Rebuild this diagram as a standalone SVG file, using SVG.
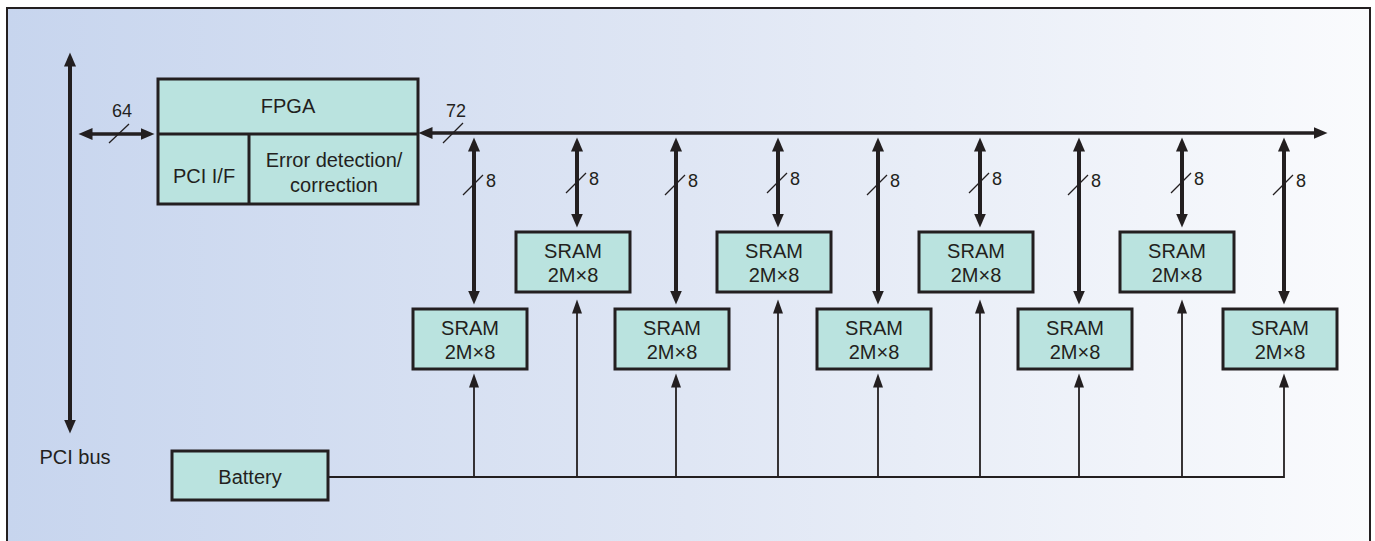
<svg xmlns="http://www.w3.org/2000/svg" width="1375" height="541" viewBox="0 0 1375 541">
<defs>
<linearGradient id="bg" x1="0" y1="0" x2="1" y2="0">
<stop offset="0" stop-color="#c7d5ee"/>
<stop offset="0.5" stop-color="#dfe6f4"/>
<stop offset="1" stop-color="#fafbfd"/>
</linearGradient>
<marker id="ah" markerUnits="userSpaceOnUse" markerWidth="16" markerHeight="14" refX="0.5" refY="6" orient="auto-start-reverse">
<path d="M0,0 L14,6 L0,12 Z" fill="#231f20"/>
</marker>
<marker id="ahs" markerUnits="userSpaceOnUse" markerWidth="16" markerHeight="12" refX="0.5" refY="5" orient="auto">
<path d="M0,0 L14,5 L0,10 Z" fill="#231f20"/>
</marker>
</defs>
<style>
.box{fill:#bae3df;stroke:#231f20;stroke-width:3}
.t{font-family:"Liberation Sans",Arial,sans-serif;font-size:20px;fill:#231f20;text-anchor:middle}
.s{font-family:"Liberation Sans",Arial,sans-serif;font-size:18px;fill:#231f20;text-anchor:middle}
.thick{stroke:#231f20;stroke-width:4;fill:none}
.bus{stroke:#231f20;stroke-width:3.5;fill:none}
.thin{stroke:#231f20;stroke-width:1.8;fill:none}
.sl{stroke:#231f20;stroke-width:1.3}
</style>
<rect x="0" y="0" width="1375" height="541" fill="#ffffff"/>
<rect x="7" y="8" width="1363" height="545" fill="url(#bg)" stroke="#231f20" stroke-width="2"/>

<g id="connectors">
<line class="thick" x1="70" y1="420" x2="70" y2="66" marker-start="url(#ah)" marker-end="url(#ah)"/>
<line class="bus" x1="92" y1="134" x2="141" y2="134" marker-start="url(#ah)" marker-end="url(#ah)"/>
<line class="sl" x1="109" y1="143" x2="129" y2="124"/>
<line class="bus" x1="432" y1="133" x2="1314" y2="133" marker-start="url(#ah)" marker-end="url(#ah)"/>
<line class="sl" x1="443" y1="143" x2="463" y2="123"/>

<line class="thick" x1="474" y1="151" x2="474" y2="291" marker-start="url(#ah)" marker-end="url(#ah)"/>
<line class="thick" x1="577" y1="151" x2="577" y2="214" marker-start="url(#ah)" marker-end="url(#ah)"/>
<line class="thick" x1="676" y1="151" x2="676" y2="291" marker-start="url(#ah)" marker-end="url(#ah)"/>
<line class="thick" x1="778" y1="151" x2="778" y2="214" marker-start="url(#ah)" marker-end="url(#ah)"/>
<line class="thick" x1="878" y1="151" x2="878" y2="291" marker-start="url(#ah)" marker-end="url(#ah)"/>
<line class="thick" x1="980" y1="151" x2="980" y2="214" marker-start="url(#ah)" marker-end="url(#ah)"/>
<line class="thick" x1="1079" y1="151" x2="1079" y2="291" marker-start="url(#ah)" marker-end="url(#ah)"/>
<line class="thick" x1="1182" y1="151" x2="1182" y2="214" marker-start="url(#ah)" marker-end="url(#ah)"/>
<line class="thick" x1="1284" y1="151" x2="1284" y2="291" marker-start="url(#ah)" marker-end="url(#ah)"/>

<g>
<line class="sl" x1="463" y1="195" x2="483" y2="175"/>
<line class="sl" x1="566" y1="193" x2="586" y2="173"/>
<line class="sl" x1="665" y1="195" x2="685" y2="175"/>
<line class="sl" x1="767" y1="193" x2="787" y2="173"/>
<line class="sl" x1="867" y1="195" x2="887" y2="175"/>
<line class="sl" x1="969" y1="193" x2="989" y2="173"/>
<line class="sl" x1="1068" y1="195" x2="1088" y2="175"/>
<line class="sl" x1="1171" y1="193" x2="1191" y2="173"/>
<line class="sl" x1="1273" y1="195" x2="1293" y2="175"/>
</g>

<polyline class="thin" points="328,477 1284,477"/>
<line class="thin" x1="474" y1="477" x2="474" y2="387" marker-end="url(#ahs)"/>
<line class="thin" x1="577" y1="477" x2="577" y2="313" marker-end="url(#ahs)"/>
<line class="thin" x1="676" y1="477" x2="676" y2="387" marker-end="url(#ahs)"/>
<line class="thin" x1="778" y1="477" x2="778" y2="313" marker-end="url(#ahs)"/>
<line class="thin" x1="878" y1="477" x2="878" y2="387" marker-end="url(#ahs)"/>
<line class="thin" x1="980" y1="477" x2="980" y2="313" marker-end="url(#ahs)"/>
<line class="thin" x1="1079" y1="477" x2="1079" y2="387" marker-end="url(#ahs)"/>
<line class="thin" x1="1182" y1="477" x2="1182" y2="313" marker-end="url(#ahs)"/>
<line class="thin" x1="1284" y1="477.9" x2="1284" y2="387" marker-end="url(#ahs)"/>
</g>

<g id="labels">
<text class="t" x="75" y="464">PCI bus</text>
<text class="s" x="122" y="117">64</text>
<text class="s" x="456" y="117">72</text>
<text class="s" x="491" y="187">8</text>
<text class="s" x="594" y="185">8</text>
<text class="s" x="693" y="187">8</text>
<text class="s" x="795" y="185">8</text>
<text class="s" x="895" y="187">8</text>
<text class="s" x="997" y="185">8</text>
<text class="s" x="1096" y="187">8</text>
<text class="s" x="1199" y="185">8</text>
<text class="s" x="1301" y="187">8</text>
</g>

<g id="fpga">
<rect class="box" x="158" y="79" width="260" height="125"/>
<line x1="158" y1="134" x2="418" y2="134" stroke="#231f20" stroke-width="3"/>
<line x1="249" y1="134" x2="249" y2="204" stroke="#231f20" stroke-width="3"/>
<text class="t" x="288" y="113">FPGA</text>
<text class="t" x="204" y="183">PCI I/F</text>
<text class="t" x="334" y="167">Error detection/</text>
<text class="t" x="334" y="192">correction</text>
</g>

<g id="sram1"><rect class="box" x="413" y="309" width="114" height="60"/><text class="t" x="470" y="335">SRAM</text><text class="t" x="470" y="359">2M×8</text></g>
<g id="sram2"><rect class="box" x="516" y="232" width="114" height="60"/><text class="t" x="573" y="258">SRAM</text><text class="t" x="573" y="282">2M×8</text></g>
<g id="sram3"><rect class="box" x="615" y="309" width="114" height="60"/><text class="t" x="672" y="335">SRAM</text><text class="t" x="672" y="359">2M×8</text></g>
<g id="sram4"><rect class="box" x="717" y="232" width="114" height="60"/><text class="t" x="774" y="258">SRAM</text><text class="t" x="774" y="282">2M×8</text></g>
<g id="sram5"><rect class="box" x="817" y="309" width="114" height="60"/><text class="t" x="874" y="335">SRAM</text><text class="t" x="874" y="359">2M×8</text></g>
<g id="sram6"><rect class="box" x="919" y="232" width="114" height="60"/><text class="t" x="976" y="258">SRAM</text><text class="t" x="976" y="282">2M×8</text></g>
<g id="sram7"><rect class="box" x="1018" y="309" width="114" height="60"/><text class="t" x="1075" y="335">SRAM</text><text class="t" x="1075" y="359">2M×8</text></g>
<g id="sram8"><rect class="box" x="1120" y="232" width="114" height="60"/><text class="t" x="1177" y="258">SRAM</text><text class="t" x="1177" y="282">2M×8</text></g>
<g id="sram9"><rect class="box" x="1223" y="309" width="114" height="60"/><text class="t" x="1280" y="335">SRAM</text><text class="t" x="1280" y="359">2M×8</text></g>

<g id="battery">
<rect class="box" x="172" y="451" width="156" height="49"/>
<text class="t" x="250" y="484">Battery</text>
</g>
</svg>
